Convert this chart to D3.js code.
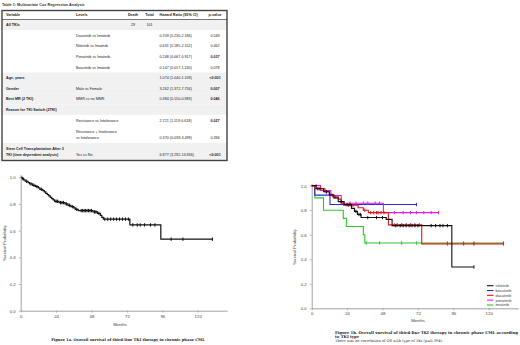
<!DOCTYPE html>
<html>
<head>
<meta charset="utf-8">
<title>Third-line TKI survival</title>
<script src="https://d3js.org/d3.v7.min.js"></script>
<style>
  body { margin: 0; background: #fff; }
  svg { display: block; }
</style>
</head>
<body>
<script>
// ---- table data ----
var tableTitle = "Table 1: Multivariate Cox Regression Analysis";
var headers = ["Variable", "Levels", "Death", "Total", "Hazard Ratio (95% CI)", "p-value"];
var variableCol = [["All TKIs"], [], [], [], [], ["Age,  years"], ["Gender"], ["Best MR (2 TKI)"],
  ["Reason for TKI Switch (2TKI)"], [], [], ["Stem Cell Transplantation After 3", "TKI (time dependent analysis)"]];
var levelsCol = [[], ["Dasatinib vs Imatinib"], ["Nilotinib vs Imatinib"], ["Ponatinib vs Imatinib"], ["Bosutinib vs Imatinib"],
  [], ["Male vs Female"], ["MMR vs no MMR"], [], ["Resistance vs Intolerance"], ["Resistance + Intolerance", "vs Intolerance"], ["Yes vs No"]];
var deaths = ["29", "", "", "", "", "", "", "", "", "", "", ""];
var totals = ["101", "", "", "", "", "", "", "", "", "", "", ""];
var hazardRatios = ["", "0.709 (0.230-2.184)", "0.631 (0.185-2.152)", "0.248 (0.067-0.917)", "0.147 (0.017-1.240)",
  "1.074 (1.040-1.109)", "3.262 (1.372-7.756)", "0.384 (0.150-0.983)", "", "2.721 (1.119-6.618)",
  "0.370 (0.039-3.499)", "6.877 (3.292-13.936)"];
var pValues = ["", "0.549", "0.462", "0.037", "0.078", "<0.001", "0.007", "0.046", "", "0.027", "0.394", "<0.001"];

// ---- figure 1a: all patients ----
var allTimes = [0, 1, 2, 3, 5, 6, 8, 10, 12, 13, 15, 16, 17, 18, 19, 20, 21, 22, 23, 26, 30, 32, 34, 36, 37, 39, 49, 52, 54, 55, 56, 74, 95, 130];
var allSurv = [1.0, 0.99, 0.98, 0.97, 0.96, 0.95, 0.94, 0.93, 0.92, 0.91, 0.90, 0.89, 0.88, 0.87, 0.86, 0.85, 0.84, 0.83, 0.82, 0.81,
  0.80, 0.79, 0.78, 0.77, 0.76, 0.75, 0.74, 0.73, 0.715, 0.70, 0.686, 0.643, 0.536, 0.536];
var allCensor = [1.5, 4, 7, 9, 11, 14, 24, 25, 27, 28, 29, 31, 33, 35, 38, 41, 42, 43, 44, 45, 46, 47, 48, 50, 51, 53,
  57, 59, 61, 63, 65, 67, 69, 71, 73, 76, 79, 81, 84, 88, 91, 102, 110, 130];

// ---- figure 1b: by TKI type ----
var tkiNames = ["nilotinib", "bosutinib", "dasatinib", "ponatinib", "imatinib"];
var nilotinibTimes = [0, 3, 8, 12, 15, 18, 22, 27, 29, 31, 33.5, 50.5, 54.5, 95, 110];
var nilotinibSurv = [1, 0.975, 0.95, 0.925, 0.9, 0.87, 0.845, 0.815, 0.79, 0.765, 0.74, 0.725, 0.674, 0.337, 0.337];
var nilotinibCensor = [5, 10, 20, 24, 26, 30, 32, 33, 38, 44, 48, 57, 60, 62, 64, 66, 68, 70, 72, 81, 84, 87, 89, 92, 110];
var bosutinibTimes = [0, 2, 12.4, 71];
var bosutinibSurv = [1, 0.923, 0.846, 0.846];
var bosutinibCensor = [71];
var dasatinibTimes = [0, 2, 9, 12, 14, 18, 20, 21.5, 31.5, 35, 38.4, 52, 74.6, 130];
var dasatinibSurv = [1, 0.975, 0.95, 0.93, 0.91, 0.89, 0.86, 0.84, 0.82, 0.80, 0.78, 0.68, 0.525, 0.525];
var dasatinibCensor = [4, 6, 10, 16, 25, 28, 36, 40, 42, 44, 45, 47, 49, 56, 58, 61, 64, 67, 70, 73, 92, 103, 110, 130];
var ponatinibTimes = [0, 6, 13, 20, 48.6, 86];
var ponatinibSurv = [1, 0.96, 0.92, 0.857, 0.78, 0.78];
var ponatinibCensor = [3, 9, 26, 30, 35, 38, 43, 46, 56, 62, 67, 71, 76, 81, 86];
var imatinibTimes = [0, 2.2, 8, 21.4, 23.5, 35, 36, 130];
var imatinibSurv = [1, 0.9, 0.8, 0.733, 0.667, 0.6, 0.533, 0.533];
var imatinibCensor = [37, 46, 61, 71, 92, 103, 110, 130];

var monthTicks = [0, 24, 48, 72, 96, 120];
var survTicks = [0, 0.2, 0.4, 0.6, 0.8, 1.0];

var tkiColor = { nilotinib: "#111111", bosutinib: "#2a2ad0", dasatinib: "#e2161e", ponatinib: "#e020e0", imatinib: "#2cc42c" };
var drawOrder = ["imatinib", "bosutinib", "ponatinib", "dasatinib", "nilotinib"];
var series = {
  nilotinib: { t: nilotinibTimes, s: nilotinibSurv, c: nilotinibCensor },
  bosutinib: { t: bosutinibTimes, s: bosutinibSurv, c: bosutinibCensor },
  dasatinib: { t: dasatinibTimes, s: dasatinibSurv, c: dasatinibCensor },
  ponatinib: { t: ponatinibTimes, s: ponatinibSurv, c: ponatinibCensor },
  imatinib: { t: imatinibTimes, s: imatinibSurv, c: imatinibCensor }
};

var svg = d3.select("body").append("svg").attr("width", 520).attr("height", 345);
var sans = "'Liberation Sans', Arial, sans-serif";
var serif = "'DejaVu Serif', 'Liberation Serif', serif";

// ---------------- table ----------------
svg.append("text").attr("x", 2).attr("y", 5.5)
  .attr("font-family", sans).attr("font-size", 3.8).attr("font-weight", "bold").attr("fill", "#333")
  .text(tableTitle);

var tLeft = 2, tRight = 227, tTop = 10.5, headBottom = 19.5, tBottom = 160.5;
var rowLines = variableCol.map(function(v, i) { return Math.max(1, v.length, levelsCol[i].length); });
var rowUnits = rowLines.map(function(n) { return n == 1 ? 1 : 1.65; });
var cum = [0];
rowUnits.forEach(function(u) { cum.push(cum[cum.length - 1] + u); });
var rowY = d3.scaleLinear().domain([0, cum[cum.length - 1]]).range([headBottom, tBottom]);
var colX = { variable: 6, levels: 76, death: 133, total: 149.5, hr: 159.5, p: 215 };

var table = svg.append("g").attr("font-family", sans).attr("font-size", 3.7).attr("fill", "#222");

variableCol.forEach(function(v, i) {
  if (v.length > 0) {
    table.append("rect").attr("x", tLeft).attr("y", rowY(cum[i])).attr("width", tRight - tLeft)
      .attr("height", rowY(cum[i + 1]) - rowY(cum[i])).attr("fill", "#f1f1f1");
  }
});

table.append("line").attr("x1", tLeft).attr("x2", tRight).attr("y1", headBottom).attr("y2", headBottom)
  .attr("stroke", "#555").attr("stroke-width", 0.8);
table.append("rect").attr("x", tLeft).attr("y", tTop).attr("width", tRight - tLeft).attr("height", tBottom - tTop)
  .attr("fill", "none").attr("stroke", "#444").attr("stroke-width", 1.4);

var headY = (tTop + headBottom) / 2 + 1.3;
var headPos = [[colX.variable, "start"], [colX.levels, "start"], [colX.death, "middle"], [colX.total, "middle"], [colX.hr, "start"], [colX.p, "middle"]];
headers.forEach(function(h, i) {
  table.append("text").attr("x", headPos[i][0]).attr("y", headY).attr("text-anchor", headPos[i][1])
    .attr("font-weight", "bold").text(h);
});

function lineY(i, k, n) {
  var mid = (rowY(cum[i]) + rowY(cum[i + 1])) / 2;
  return mid + 1.3 + (k - (n - 1) / 2) * 6;
}

variableCol.forEach(function(v, i) {
  var n = rowLines[i];
  v.forEach(function(txt, k) {
    table.append("text").attr("x", colX.variable).attr("y", lineY(i, k, n)).attr("font-weight", "bold").text(txt);
  });
  var lv = levelsCol[i];
  lv.forEach(function(txt, k) {
    table.append("text").attr("x", colX.levels).attr("y", lineY(i, k + (n - lv.length), n)).text(txt);
  });
  var last = lineY(i, n - 1, n);
  table.append("text").attr("x", colX.death).attr("y", last).attr("text-anchor", "middle").text(deaths[i]);
  table.append("text").attr("x", colX.total).attr("y", last).attr("text-anchor", "middle").text(totals[i]);
  table.append("text").attr("x", colX.hr).attr("y", last).text(hazardRatios[i]);
  var pv = pValues[i];
  var sig = pv.charAt(0) == "<" || (+pv < 0.05 && pv != "");
  table.append("text").attr("x", colX.p).attr("y", last).attr("text-anchor", "middle")
    .attr("font-weight", sig ? "bold" : "normal").text(pv);
});

// ---------------- KM helpers ----------------
function survAt(times, surv, t) {
  var i = d3.bisectRight(times, t) - 1;
  return surv[Math.max(0, i)];
}

function drawAxes(g, x, y, xLabelPos, yLabelPos) {
  var ax = g.append("g").attr("transform", "translate(0," + y(0) + ")")
    .call(d3.axisBottom(x).tickValues(monthTicks).tickSize(2).tickSizeOuter(0).tickPadding(2));
  var ay = g.append("g").attr("transform", "translate(" + x(0) + ",0)")
    .call(d3.axisLeft(y).tickValues(survTicks).tickFormat(d3.format(".1f")).tickSize(2).tickSizeOuter(0).tickPadding(3));
  [ax, ay].forEach(function(a) {
    a.select(".domain").attr("stroke", "#8a8a8a").attr("stroke-width", 0.8);
    a.selectAll(".tick line").attr("stroke", "#8a8a8a").attr("stroke-width", 0.6);
    a.selectAll(".tick text").attr("font-family", sans).attr("font-size", 4.3).attr("fill", "#444");
  });
  g.append("text").attr("x", xLabelPos[0]).attr("y", xLabelPos[1]).attr("text-anchor", "middle")
    .attr("font-family", sans).attr("font-size", 4.2).attr("fill", "#444").text("Months");
  g.append("text").attr("transform", "translate(" + yLabelPos[0] + "," + yLabelPos[1] + ") rotate(-90)")
    .attr("text-anchor", "middle").attr("font-family", sans).attr("font-size", 4.2).attr("fill", "#444")
    .text("Survival Probability");
}

function drawKM(g, x, y, times, surv, censor, color, width) {
  var pts = times.map(function(t, i) { return [t, surv[i]]; });
  var line = d3.line().x(function(d) { return x(d[0]); }).y(function(d) { return y(d[1]); }).curve(d3.curveStepAfter);
  g.append("path").attr("d", line(pts)).attr("fill", "none").attr("stroke", color).attr("stroke-width", width);
  g.selectAll(null).data(censor).enter().append("line")
    .attr("x1", function(d) { return x(d); }).attr("x2", function(d) { return x(d); })
    .attr("y1", function(d) { return y(survAt(times, surv, d)) - 1.7; })
    .attr("y2", function(d) { return y(survAt(times, surv, d)) + 1.7; })
    .attr("stroke", color).attr("stroke-width", 1);
}

// ---------------- figure 1a ----------------
var xL = d3.scaleLinear().domain([0, 140]).range([20.7, 227.2]);
var yL = d3.scaleLinear().domain([0, 1.02]).range([310.7, 174.6]);
var gL = svg.append("g");
drawAxes(gL, xL, yL, [120, 325.5], [5.5, 243]);
drawKM(gL, xL, yL, allTimes, allSurv, allCensor, "#111", 1.2);
svg.append("text").attr("x", 128).attr("y", 340.5).attr("text-anchor", "middle")
  .attr("font-family", serif).attr("font-size", 3.7).attr("font-weight", "bold").attr("fill", "#222")
  .text("Figure 1a. Overall survival of third-line TKI therapy in chronic phase CML");

// ---------------- figure 1b ----------------
var xR = d3.scaleLinear().domain([0, 140]).range([311.7, 518.2]);
var yR = d3.scaleLinear().domain([0, 1.02]).range([308.3, 183.2]);
var gR = svg.append("g");
drawAxes(gR, xR, yR, [418, 321.5], [296, 247]);
drawOrder.forEach(function(name) {
  var s = series[name];
  drawKM(gR, xR, yR, s.t, s.s, s.c, tkiColor[name], 1.1);
});

var legend = gR.append("g");
var legY = d3.scaleLinear().domain([0, tkiNames.length - 1]).range([285.7, 305]);
tkiNames.forEach(function(name, i) {
  legend.append("line").attr("x1", 487).attr("x2", 493.5).attr("y1", legY(i)).attr("y2", legY(i))
    .attr("stroke", tkiColor[name]).attr("stroke-width", 1.1);
  legend.append("text").attr("x", 495.5).attr("y", legY(i) + 1.4).attr("font-family", sans)
    .attr("font-size", 3.9).attr("fill", "#444").text(name);
});

var capR = svg.append("g").attr("font-family", serif).attr("fill", "#222");
capR.append("text").attr("x", 335).attr("y", 333.5).attr("font-size", 3.85).attr("font-weight", "bold")
  .text("Figure 1b. Overall survival of third-line TKI therapy in chronic phase CML according");
capR.append("text").attr("x", 335).attr("y", 338).attr("font-size", 3.85).attr("font-weight", "bold")
  .text("to TKI type");
capR.append("text").attr("x", 335).attr("y", 342.3).attr("font-size", 3.6)
  .text("There was no correlation of OS with type of TKI (p=0.394).");
</script>
</body>
</html>
